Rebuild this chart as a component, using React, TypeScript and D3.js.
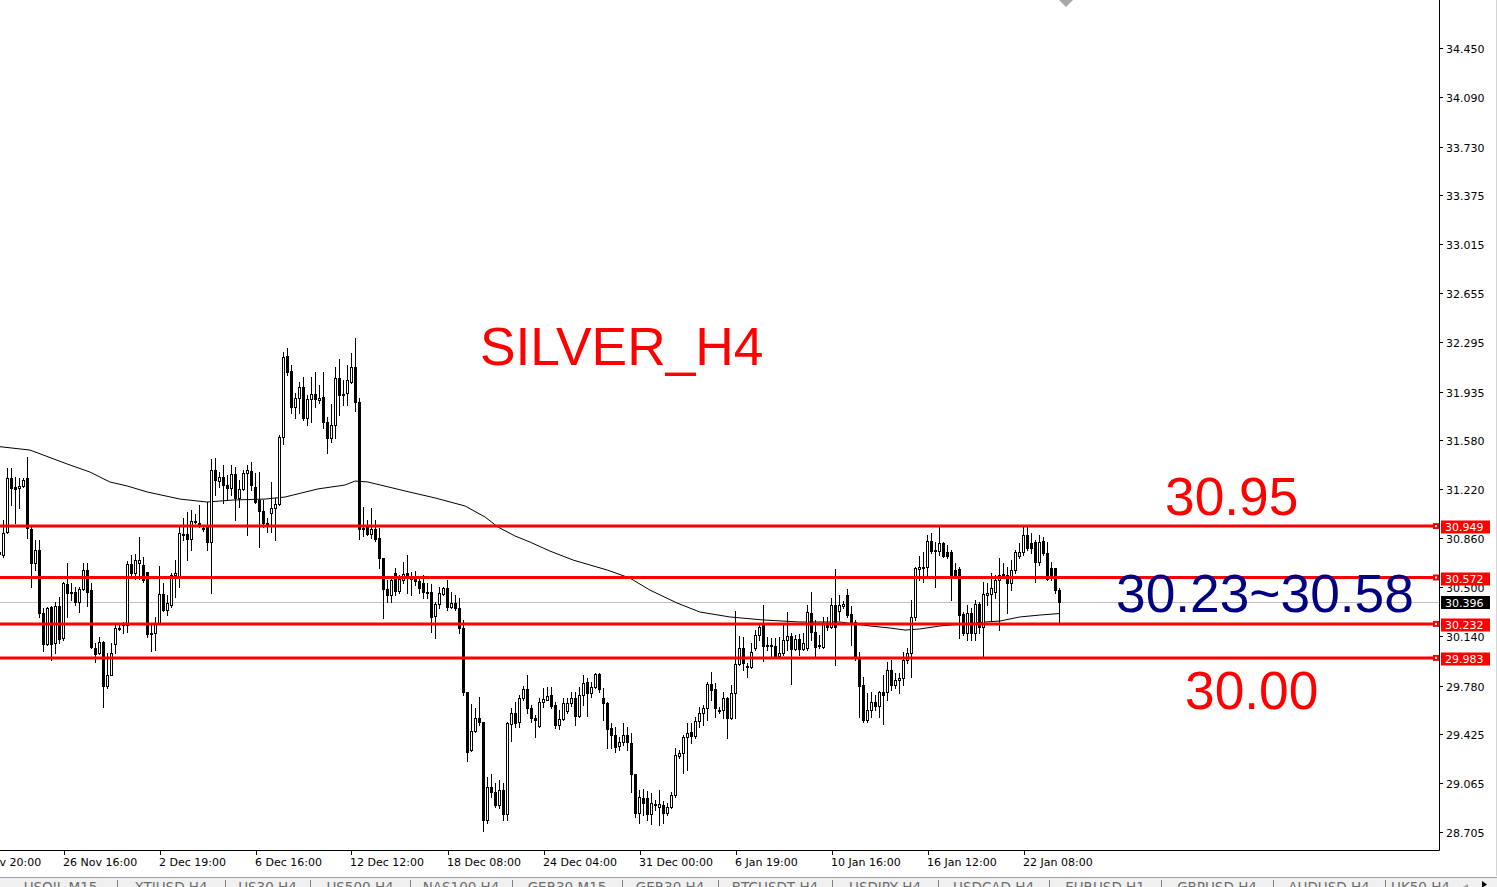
import React from 'react';
import * as d3 from 'd3';

const opens = [30.759,30.737,30.906,31.301,31.235,31.228,31.243,31.301,30.927,30.678,30.774,30.312,30.085,30.356,30.092,30.363,30.129,30.524,30.466,30.466,30.393,30.488,30.627,30.480,30.055,30.019,30.099,29.777,29.858,30.085,30.202,30.224,30.224,30.671,30.605,30.678,30.664,30.612,30.165,30.165,30.239,30.451,30.334,30.371,30.590,30.576,30.891,30.891,30.854,30.986,30.971,30.935,30.942,30.832,31.360,31.279,31.308,31.250,31.228,31.331,31.155,31.221,31.338,31.353,31.235,31.140,31.059,30.971,31.045,31.081,31.111,31.602,32.195,32.085,31.822,31.888,31.968,31.741,31.880,31.917,31.873,31.895,31.712,31.594,31.690,32.034,31.917,31.924,32.005,32.115,31.858,30.935,30.957,30.891,30.927,30.862,30.715,30.488,30.444,30.605,30.473,30.554,30.605,30.568,30.568,30.546,30.532,30.466,30.466,30.290,30.378,30.451,30.495,30.356,30.385,30.349,30.202,29.733,29.308,29.447,29.543,29.513,28.795,29.037,29.000,28.905,29.015,28.839,29.499,29.579,29.513,29.689,29.755,29.616,29.543,29.484,29.660,29.674,29.711,29.638,29.491,29.535,29.594,29.652,29.689,29.557,29.711,29.806,29.726,29.770,29.865,29.689,29.652,29.469,29.418,29.337,29.367,29.418,29.359,29.132,28.846,28.956,28.956,28.839,28.912,28.890,28.905,28.846,28.890,28.978,29.264,29.286,29.403,29.440,29.411,29.521,29.579,29.616,29.792,29.755,29.601,29.601,29.689,29.543,29.726,29.938,30.055,29.916,29.916,30.055,30.151,30.224,30.077,30.070,30.070,29.997,30.019,30.114,30.143,30.048,30.121,30.048,30.055,30.312,30.173,30.070,30.063,30.239,30.209,30.371,30.327,30.363,30.444,30.305,30.246,29.990,29.784,29.528,29.601,29.660,29.630,29.733,29.733,29.894,29.784,29.821,29.836,29.968,30.019,30.283,30.634,30.642,30.649,30.840,30.766,30.766,30.825,30.759,30.759,30.627,30.634,30.305,30.165,30.312,30.165,30.378,30.209,30.444,30.451,30.466,30.554,30.598,30.590,30.532,30.627,30.730,30.759,30.884,30.825,30.832,30.686,30.840,30.752,30.642,30.642,30.480];
const highs = [30.788,30.993,31.375,31.375,31.308,31.301,31.301,31.455,30.957,30.847,30.847,30.348,30.356,30.363,30.393,30.429,30.539,30.678,30.532,30.502,30.502,30.678,30.678,30.532,30.092,30.136,30.107,30.019,30.092,30.239,30.224,30.246,30.693,30.737,30.744,30.869,30.722,30.612,30.239,30.283,30.656,30.532,30.444,30.605,30.700,30.957,31.008,31.052,31.067,31.037,31.103,30.957,31.125,31.440,31.448,31.345,31.396,31.323,31.396,31.382,31.287,31.360,31.396,31.418,31.338,31.345,31.140,31.008,31.272,31.155,31.616,32.225,32.254,32.129,31.924,32.005,32.041,31.910,32.041,32.078,31.983,32.078,31.748,31.844,32.115,32.173,32.019,32.129,32.217,32.327,31.888,31.089,30.993,31.081,30.993,30.935,30.715,30.554,30.568,30.642,30.590,30.686,30.737,30.612,30.620,30.568,30.590,30.532,30.524,30.393,30.502,30.502,30.554,30.466,30.444,30.422,30.261,29.733,29.645,29.616,29.696,29.513,29.110,29.132,29.066,29.088,29.066,29.513,29.616,29.660,29.711,29.777,29.858,29.638,29.565,29.689,29.762,29.770,29.770,29.660,29.601,29.689,29.689,29.733,29.733,29.770,29.858,29.836,29.806,29.872,29.872,29.762,29.660,29.506,29.477,29.403,29.506,29.477,29.433,29.132,29.015,29.022,29.008,28.993,28.942,29.015,28.934,28.920,29.000,29.323,29.308,29.418,29.506,29.506,29.550,29.623,29.638,29.806,29.880,29.799,29.623,29.733,29.696,29.784,30.327,30.143,30.136,29.946,30.092,30.187,30.239,30.371,30.136,30.129,30.129,30.136,30.239,30.319,30.165,30.151,30.158,30.165,30.371,30.466,30.261,30.151,30.283,30.283,30.422,30.634,30.444,30.400,30.488,30.363,30.261,30.026,29.843,29.726,29.733,29.711,29.740,29.858,29.953,29.968,29.872,29.872,30.026,30.055,30.407,30.649,30.730,30.759,30.884,30.898,30.832,30.942,30.832,30.810,30.774,30.678,30.649,30.319,30.371,30.349,30.407,30.393,30.539,30.532,30.605,30.590,30.715,30.678,30.649,30.700,30.774,30.825,30.942,30.942,30.898,30.847,30.884,30.869,30.832,30.686,30.642,30.495];
const lows = [30.730,30.722,30.898,31.103,30.971,31.081,31.235,30.862,30.502,30.627,30.283,30.034,30.078,29.968,30.019,30.092,30.114,30.283,30.407,30.371,30.319,30.480,30.363,30.055,29.953,30.012,29.623,29.762,29.858,30.019,30.187,30.165,30.173,30.576,30.561,30.561,30.539,30.136,30.034,30.041,30.239,30.327,30.297,30.356,30.429,30.502,30.847,30.700,30.774,30.971,30.942,30.913,30.774,30.458,31.177,31.235,31.118,31.140,31.177,30.993,31.089,31.213,30.884,31.213,31.118,30.796,30.942,30.906,30.906,30.847,31.103,31.550,32.056,31.778,31.741,31.778,31.726,31.690,31.712,31.822,31.851,31.668,31.484,31.565,31.594,31.763,31.836,31.836,31.997,31.792,30.854,30.876,30.884,30.862,30.840,30.642,30.275,30.393,30.393,30.444,30.458,30.532,30.458,30.444,30.517,30.458,30.422,30.422,30.173,30.129,30.349,30.444,30.334,30.349,30.334,30.165,29.711,29.227,29.301,29.440,29.491,28.714,28.773,28.964,28.890,28.883,28.795,28.795,29.374,29.477,29.477,29.674,29.579,29.513,29.403,29.477,29.623,29.674,29.616,29.469,29.462,29.528,29.579,29.630,29.491,29.550,29.638,29.557,29.696,29.762,29.733,29.528,29.323,29.323,29.293,29.308,29.345,29.308,29.000,28.817,28.773,28.832,28.795,28.766,28.868,28.759,28.773,28.832,28.883,28.964,29.249,29.139,29.161,29.359,29.396,29.477,29.491,29.528,29.674,29.550,29.579,29.543,29.396,29.535,29.543,29.931,29.894,29.843,29.909,30.041,30.114,29.960,30.041,29.982,29.990,29.982,30.004,30.041,29.792,30.041,30.004,30.041,30.041,30.114,29.990,30.055,30.055,30.187,30.202,29.931,30.261,30.349,30.283,30.077,29.968,29.550,29.513,29.513,29.550,29.601,29.550,29.499,29.674,29.748,29.762,29.726,29.784,29.946,29.843,30.261,30.554,30.539,30.590,30.752,30.502,30.737,30.722,30.715,30.407,30.568,30.129,30.151,30.114,30.114,30.114,30.165,29.990,30.371,30.261,30.422,30.187,30.568,30.312,30.480,30.605,30.715,30.737,30.774,30.752,30.539,30.664,30.737,30.554,30.554,30.458,30.246];
const closes = [30.744,30.898,31.301,31.228,31.221,31.243,31.287,30.935,30.678,30.774,30.312,30.085,30.348,30.085,30.363,30.121,30.532,30.458,30.462,30.393,30.488,30.627,30.466,30.063,30.012,30.099,29.777,29.858,30.019,30.202,30.195,30.231,30.671,30.605,30.700,30.700,30.554,30.158,30.158,30.239,30.451,30.334,30.385,30.590,30.605,30.898,30.887,30.854,30.986,30.979,30.957,30.930,30.832,31.360,31.287,31.308,31.250,31.228,31.331,31.155,31.221,31.338,31.360,31.250,31.125,31.059,30.971,30.957,31.081,31.111,31.602,32.188,32.078,31.822,31.888,31.968,31.741,31.880,31.917,31.880,31.888,31.712,31.594,31.690,32.034,31.910,31.912,32.019,32.115,31.858,30.927,30.930,30.891,30.927,30.854,30.715,30.488,30.444,30.554,30.473,30.561,30.598,30.568,30.561,30.546,30.495,30.466,30.458,30.283,30.378,30.458,30.495,30.356,30.385,30.349,30.202,29.733,29.293,29.447,29.543,29.513,28.795,29.037,29.000,28.905,29.015,28.839,29.506,29.579,29.506,29.689,29.755,29.616,29.543,29.528,29.660,29.682,29.704,29.630,29.491,29.535,29.652,29.652,29.689,29.557,29.711,29.799,29.726,29.770,29.865,29.755,29.652,29.462,29.418,29.330,29.367,29.418,29.367,29.132,28.846,28.964,28.920,28.839,28.920,28.905,28.912,28.846,28.890,28.978,29.271,29.286,29.403,29.433,29.411,29.521,29.579,29.616,29.792,29.748,29.616,29.594,29.689,29.543,29.726,29.938,30.055,29.946,29.924,30.026,30.151,30.209,30.070,30.070,30.077,29.997,30.019,30.114,30.143,30.048,30.121,30.048,30.092,30.319,30.173,30.063,30.077,30.239,30.209,30.371,30.209,30.371,30.378,30.297,30.246,29.990,29.777,29.528,29.601,29.660,29.630,29.733,29.711,29.894,29.784,29.821,29.836,29.968,30.019,30.283,30.642,30.649,30.652,30.840,30.766,30.774,30.825,30.730,30.730,30.590,30.590,30.297,30.165,30.312,30.165,30.378,30.209,30.451,30.458,30.495,30.554,30.590,30.594,30.532,30.627,30.759,30.759,30.884,30.788,30.788,30.686,30.832,30.752,30.561,30.583,30.480,30.396];

// moving average (candle index, price)
const maIndex = [0,7.6,10.9,16.9,22.6,27.6,31.9,36.9,45.1,51.9,58.4,66.4,71.4,79.6,86.4,88.9,92.1,101.4,108.9,116.4,121.4,124.6,128.9,132.6,137.6,143.4,151.9,157.6,162.6,169.4,175.1,182.6,190.9,200.1,210.1,217.6,222.6,226.4,230.1,235.1,246.4,250.1,255.1,260.1,265];
const maValue = [31.531,31.506,31.470,31.404,31.345,31.272,31.243,31.199,31.147,31.125,31.140,31.147,31.162,31.221,31.250,31.279,31.272,31.206,31.155,31.096,31.015,30.942,30.876,30.832,30.766,30.700,30.627,30.568,30.480,30.385,30.319,30.283,30.261,30.246,30.246,30.217,30.202,30.187,30.195,30.217,30.246,30.253,30.283,30.297,30.308];

const timeLabels = ['21 Nov 20:00','26 Nov 16:00','2 Dec 19:00','6 Dec 16:00','12 Dec 12:00','18 Dec 08:00','24 Dec 04:00','31 Dec 00:00','6 Jan 19:00','10 Jan 16:00','16 Jan 12:00','22 Jan 08:00'];
const timeLabelIndex = [-8,16,40,64,88,112,136,160,184,208,232,256];

const priceTicks = [34.450,34.090,33.730,33.375,33.015,32.655,32.295,31.935,31.580,31.220,30.860,30.500,30.140,29.780,29.425,29.065,28.705];
const levels = [30.949,30.572,30.232,29.983];
const currentPrice = 30.396;

const tabNames = ['USOIL,M15','XTIUSD,H4','US30,H4','US500,H4','NAS100,H4','GER30,M15','GER30,H4','BTCUSDT,H4','USDJPY,H4','USDCAD,H4','EURUSD,H1','GBPUSD,H4','AUDUSD,H4','UK50,H4'];
const tabEdges = [4,117,225,310,410,512,622,718,832,938,1049,1161,1273,1385,1456];

export default function App() {
  const W = 1497, H = 887;
  const plotRight = 1439.5, plotBottom = 850.5;
  const x = d3.scaleLinear().domain([0, 265]).range([-0.5, 1059.5]);
  const y = d3.scaleLinear().domain([34.45, 28.705]).range([48.3, 832.3]);
  const axisFont = '"DejaVu Sans", sans-serif';
  const bigFont = '"Liberation Sans", Arial, sans-serif';
  const bigSize = 53.3;

  const maLine = d3.line<number>()
    .x((_, i) => x(maIndex[i]))
    .y((d) => y(d))(maValue) || '';

  const candles = opens.map((o, i) => {
    const c = closes[i], h = highs[i], l = lows[i];
    const cx = x(i);
    const yTop = Math.round(y(Math.max(o, c)));
    const yBot = Math.round(y(Math.min(o, c)));
    const yH = Math.round(y(h));
    const yL = Math.round(y(l));
    const bull = c > o;
    return (
      <g key={i}>
        <line x1={cx} x2={cx} y1={yH} y2={yL + 1} stroke="#000" strokeWidth={1} />
        {bull ? (
          <rect x={cx - 1} y={yTop + 0.5} width={2} height={Math.max(yBot - yTop, 1)} fill="#fff" stroke="#000" strokeWidth={1} />
        ) : (
          <rect x={cx - 1.5} y={yTop} width={3} height={Math.max(yBot - yTop + 1, 1)} fill="#000" />
        )}
      </g>
    );
  });

  return (
    <svg width={W} height={H} style={{ position: 'absolute', left: 0, top: 0, background: '#fff' }}>
      <rect x={0} y={0} width={W} height={H} fill="#fff" />
      {/* current price line */}
      <line x1={0} x2={plotRight} y1={Math.round(y(currentPrice)) + 0.5} y2={Math.round(y(currentPrice)) + 0.5} stroke="#c0c0c0" strokeWidth={1} />
      {/* moving average */}
      <path d={maLine} fill="none" stroke="#000" strokeWidth={1} />
      {candles}
      {/* horizontal levels */}
      {levels.map((lv) => {
        const yy = y(lv);
        return (
          <g key={lv}>
            <line x1={0} x2={1434} y1={yy} y2={yy} stroke="#ff0000" strokeWidth={3} />
            <rect x={1433} y={yy - 3} width={6} height={6} fill="#ff0000" />
            <rect x={1435} y={yy - 1} width={2} height={2} fill="#fff" />
          </g>
        );
      })}
      {/* annotations */}
      <text x={480} y={365} fill="#ff0000" fontFamily={bigFont} fontSize={bigSize}>SILVER_H4</text>
      <text x={1165} y={515} fill="#ff0000" fontFamily={bigFont} fontSize={bigSize}>30.95</text>
      <text x={1116} y={612} fill="#000080" fontFamily={bigFont} fontSize={bigSize}>30.23~30.58</text>
      <text x={1185} y={709} fill="#ff0000" fontFamily={bigFont} fontSize={bigSize}>30.00</text>
      {/* shift marker */}
      <polygon points="1059,0 1073,0 1066,7" fill="#a8a8a8" />
      {/* axes frame */}
      <line x1={plotRight} x2={plotRight} y1={0} y2={plotBottom} stroke="#000" strokeWidth={1} />
      <line x1={0} x2={plotRight} y1={plotBottom} y2={plotBottom} stroke="#000" strokeWidth={1} />
      <line x1={1496.5} x2={1496.5} y1={0} y2={876} stroke="#d4d4d4" strokeWidth={1} />
      {/* price ticks */}
      {priceTicks.map((p) => {
        const yy = Math.round(y(p)) + 0.5;
        return (
          <g key={p}>
            <line x1={plotRight} x2={1443} y1={yy} y2={yy} stroke="#000" />
            <text x={1446} y={yy + 4} fontFamily={axisFont} fontSize={11} fill="#000">{p.toFixed(3)}</text>
          </g>
        );
      })}
      {/* level tags */}
      {levels.map((lv) => {
        const yy = Math.round(y(lv)) + 1;
        return (
          <g key={'t' + lv}>
            <rect x={1441} y={yy - 6.5} width={49} height={13} fill="#ff0000" />
            <text x={1445} y={yy + 4} fontFamily={axisFont} fontSize={11} fill="#fff">{lv.toFixed(3)}</text>
          </g>
        );
      })}
      <g>
        <rect x={1441} y={Math.round(y(currentPrice)) - 6} width={49} height={13} fill="#000" />
        <text x={1445} y={Math.round(y(currentPrice)) + 4.5} fontFamily={axisFont} fontSize={11} fill="#fff">{currentPrice.toFixed(3)}</text>
      </g>
      {/* time axis */}
      {timeLabels.map((t, k) => {
        const tx = Math.round(x(timeLabelIndex[k])) + 0.5;
        return (
          <g key={t}>
            <line x1={tx} x2={tx} y1={plotBottom} y2={855} stroke="#000" />
            <text x={tx - 1.5} y={866} fontFamily={axisFont} fontSize={11} fill="#000">{t}</text>
          </g>
        );
      })}
      {/* tab bar */}
      <rect x={0} y={877} width={W} height={10} fill="#f0f0f0" />
      <line x1={0} x2={W} y1={877.5} y2={877.5} stroke="#a0a0a0" />
      {tabNames.map((n, k) => (
        <text key={n + k} x={(tabEdges[k] + tabEdges[k + 1]) / 2} y={892} textAnchor="middle" fontFamily={axisFont} fontSize={13.5} fill="#6d6d6d">{n}</text>
      ))}
      {tabEdges.slice(1, -1).map((e) => (
        <line key={'s' + e} x1={e + 0.5} x2={e + 0.5} y1={880} y2={887} stroke="#808080" />
      ))}
      <polygon points="1468,884 1463,887 1468,890" fill="#a0a0a0" />
      <polygon points="1482,881 1487,884.5 1482,888" fill="#000" />
    </svg>
  );
}
